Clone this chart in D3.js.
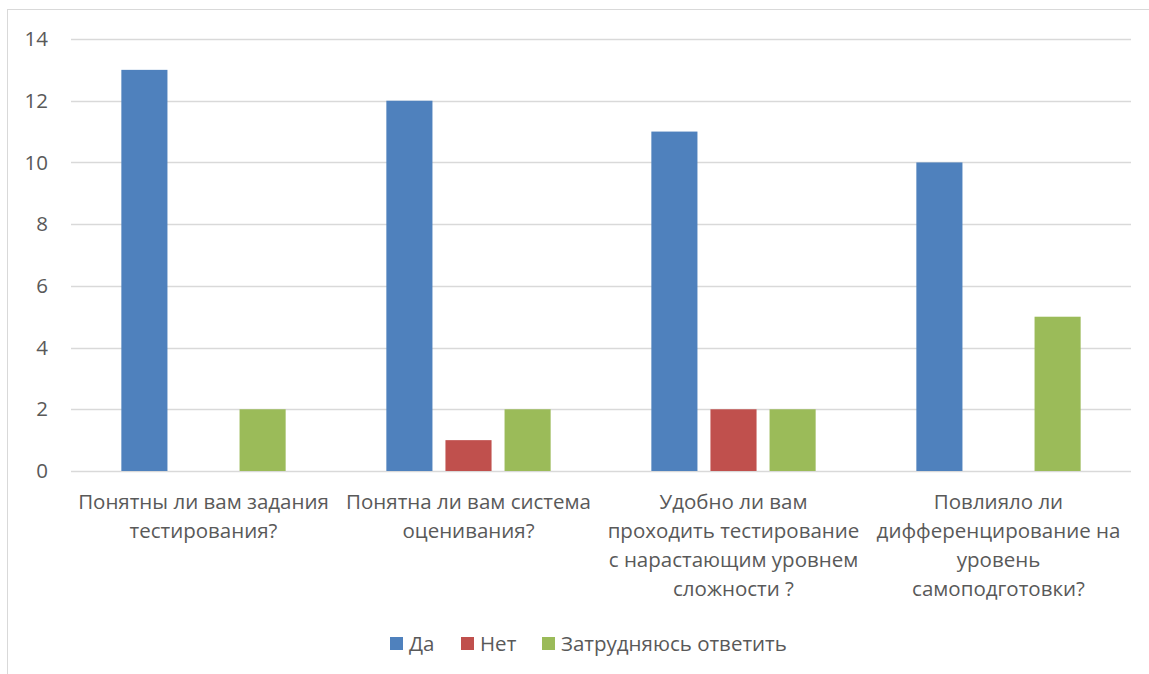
<!DOCTYPE html>
<html>
<head>
<meta charset="utf-8">
<script src="https://cdn.jsdelivr.net/npm/d3@7"></script>
<style>
  body { margin: 0; background: #fff; }
  svg { font-family: "Open Sans", "Noto Sans", sans-serif; }
</style>
</head>
<body>
<svg width="1149" height="674"></svg>
<script>
// categories (line breaks as in the picture)
var categories = [
  "Понятны ли вам задания\nтестирования?",
  "Понятна ли вам система\nоценивания?",
  "Удобно ли вам\nпроходить тестирование\nс нарастающим уровнем\nсложности ?",
  "Повлияло ли\nдифференцирование на\nуровень\nсамоподготовки?"
];
var seriesNames = ["Да", "Нет", "Затрудняюсь ответить"];
var da = [13, 12, 11, 10];
var net = [0, 1, 2, 0];
var zatr = [2, 2, 2, 5];
var yTicks = [0, 2, 4, 6, 8, 10, 12, 14];
var colors = ["#4f81bd", "#c0504d", "#9bbb59"];

var series = [da, net, zatr];
var plotLeft = 71, plotRight = 1131, plotTop = 39, plotBottom = 471;

var svg = d3.select('svg');

// outer chart border
svg.append("rect")
  .attr("x", 7.5).attr("y", 9.5)
  .attr("width", 1160).attr("height", 700)
  .attr("fill", "none").attr("stroke", "#d9d9d9");

var y = d3.scaleLinear().domain([0, 14]).range([plotBottom, plotTop]);
var x0 = d3.scaleBand().domain(categories).range([plotLeft, plotRight])
  .paddingInner(0.38).paddingOuter(0.19);
var x1 = d3.scaleBand().domain(seriesNames).range([0, x0.bandwidth()])
  .paddingInner(0.22);

// gridlines
svg.append("g").selectAll("line")
  .data(yTicks)
  .enter()
  .append("line")
  .attr("x1", plotLeft).attr("x2", plotRight)
  .attr("y1", function(d) { return Math.round(y(d)) + 0.5; })
  .attr("y2", function(d) { return Math.round(y(d)) + 0.5; })
  .attr("stroke", "#d9d9d9").attr("stroke-width", 1.3);

// y labels
svg.append("g").selectAll("text")
  .data(yTicks)
  .enter()
  .append("text")
  .attr("x", 48)
  .attr("y", function(d) { return y(d); })
  .attr("dy", "0.35em")
  .attr("text-anchor", "end")
  .attr("fill", "#595959")
  .attr("font-size", 20.5)
  .text(function(d) { return d; });

// bars
var groups = svg.append("g").selectAll("g")
  .data(categories)
  .enter()
  .append("g")
  .attr("transform", function(d) { return "translate(" + x0(d) + ",0)"; });

groups.selectAll("rect")
  .data(function(d, i) {
    return series.map(function(s, j) { return { name: seriesNames[j], v: s[i], c: colors[j] }; });
  })
  .enter()
  .append("rect")
  .attr("x", function(d) { return x1(d.name); })
  .attr("y", function(d) { return y(d.v); })
  .attr("width", x1.bandwidth())
  .attr("height", function(d) { return plotBottom - y(d.v); })
  .attr("fill", function(d) { return d.c; });

// category labels
var lab = svg.append("g").selectAll("text")
  .data(categories)
  .enter()
  .append("text")
  .attr("text-anchor", "middle")
  .attr("fill", "#595959")
  .attr("font-size", 20.5)
  .attr("transform", function(d) {
    return "translate(" + (x0(d) + x0.bandwidth() / 2) + ",509)";
  });
lab.selectAll("tspan")
  .data(function(d) { return d.split("\n"); })
  .enter()
  .append("tspan")
  .attr("x", 0)
  .attr("y", function(d, i) { return i * 29; })
  .text(function(d) { return d; });

// legend
var legendX = [390, 461, 542];
var leg = svg.append("g").selectAll("g")
  .data(seriesNames)
  .enter()
  .append("g")
  .attr("transform", function(d, i) { return "translate(" + legendX[i] + ",637)"; });
leg.append("rect")
  .attr("width", 13).attr("height", 13)
  .attr("fill", function(d, i) { return colors[i]; });
leg.append("text")
  .attr("x", 19).attr("y", 6.5).attr("dy", "0.35em")
  .attr("fill", "#595959")
  .attr("font-size", 20.5)
  .text(function(d) { return d; });
</script>
</body>
</html>
